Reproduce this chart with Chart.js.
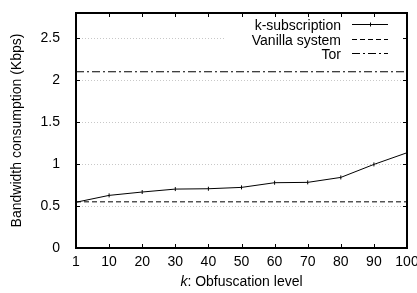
<!DOCTYPE html>
<html>
<head>
<meta charset="utf-8">
<script src="https://cdn.jsdelivr.net/npm/chart.js@4/dist/chart.umd.min.js"></script>
<style>
  html, body { margin: 0; padding: 0; background: #fff; overflow: hidden; }
  #wrap { width: 430px; height: 293px; }
</style>
</head>
<body>
<div id="wrap"><canvas id="myChart"></canvas></div>
<script>
// values
let k_levels = ["1", "10", "20", "30", "40", "50", "60", "70", "80", "90", "100"];
let k_subscription = [0.545, 0.627, 0.667, 0.702, 0.706, 0.722, 0.778, 0.782, 0.841, 0.996, 1.135];
let vanilla_level = 0.55;
let tor_level = 2.1;
let y_ticks = [0, 0.5, 1, 1.5, 2, 2.5];
let legend_names = ["k-subscription", "Vanilla system", "Tor"];

const FONT = "'Liberation Sans', Arial, sans-serif";
const FS = 14;

/** flat line from first to last category */
function flat(v) {
    return [{x: k_levels[0], y: v}, {x: k_levels[k_levels.length - 1], y: v}];
}

/** grid, ticks, frame, legend and x title drawn on the canvas */
const frame = {
    id: 'frame',
    beforeDatasetsDraw(chart) {
        const {ctx, chartArea: a, scales} = chart;
        ctx.save();
        ctx.strokeStyle = '#c8c8c8';
        ctx.lineWidth = 1;
        ctx.setLineDash([1, 2]);
        y_ticks.forEach(v => {
            if (v === 0) return;
            let y = Math.round(scales.y.getPixelForValue(v)) + 0.5;
            ctx.beginPath();
            ctx.moveTo(a.left, y);
            ctx.lineTo(a.right, y);
            ctx.stroke();
        });
        ctx.restore();
    },
    afterDatasetsDraw(chart) {
        const {ctx, chartArea: a, scales} = chart;
        ctx.save();
        // legend box
        ctx.fillStyle = '#fff';
        ctx.fillRect(226, 18, 176, 42);
        ctx.strokeStyle = '#000';
        ctx.lineWidth = 1;
        ctx.setLineDash([]);
        // inward ticks
        k_levels.forEach(l => {
            let x = Math.round(scales.x.getPixelForValue(l)) + 0.5;
            ctx.beginPath();
            ctx.moveTo(x, a.bottom); ctx.lineTo(x, a.bottom - 4);
            ctx.moveTo(x, a.top); ctx.lineTo(x, a.top + 4);
            ctx.stroke();
        });
        y_ticks.forEach(v => {
            let y = Math.round(scales.y.getPixelForValue(v)) + 0.5;
            ctx.beginPath();
            ctx.moveTo(a.left, y); ctx.lineTo(a.left + 4, y);
            ctx.moveTo(a.right, y); ctx.lineTo(a.right - 4, y);
            ctx.stroke();
        });
        // frame
        ctx.lineWidth = 2;
        ctx.strokeRect(a.left, a.top, a.right - a.left, a.bottom - a.top);

        // legend
        ctx.font = FS + 'px ' + FONT;
        ctx.fillStyle = '#000';
        ctx.textBaseline = 'alphabetic';
        chart.data.datasets.forEach((ds, i) => {
            let y = Math.round(24 + i * 14.5) + 0.5;
            ctx.textAlign = 'right';
            ctx.fillText(legend_names[i], 341, y + 5);
            ctx.lineWidth = 1;
            ctx.setLineDash(ds.borderDash || []);
            ctx.beginPath();
            ctx.moveTo(352, y);
            ctx.lineTo(388, y);
            ctx.stroke();
            ctx.setLineDash([]);
            if (i === 0) {
                ctx.beginPath();
                ctx.moveTo(370.5, y - 2); ctx.lineTo(370.5, y + 2);
                ctx.stroke();
            }
        });

        // x title with italic k
        ctx.textAlign = 'left';
        let rest = ': Obfuscation level';
        ctx.font = 'italic ' + FS + 'px ' + FONT;
        let wk = ctx.measureText('k').width;
        ctx.font = FS + 'px ' + FONT;
        let wr = ctx.measureText(rest).width;
        let x0 = (a.left + a.right) / 2 - (wk + wr) / 2;
        ctx.font = 'italic ' + FS + 'px ' + FONT;
        ctx.fillText('k', x0, 286);
        ctx.font = FS + 'px ' + FONT;
        ctx.fillText(rest, x0 + wk, 286);
        ctx.restore();
    }
};

let ctx = document.getElementById('myChart').getContext('2d');
let myChart = new Chart(ctx, {
    type: 'line',
    data: {
        labels: k_levels,
        datasets: [
            {
                label: legend_names[0],
                data: k_subscription,
                borderColor: '#000',
                borderWidth: 1,
                pointStyle: 'line',
                rotation: 90,
                pointRadius: 2,
                pointBorderColor: '#000',
                pointBorderWidth: 1,
                tension: 0
            },
            {
                label: legend_names[1],
                data: flat(vanilla_level),
                borderColor: '#000',
                borderWidth: 1,
                borderDash: [5, 3],
                pointRadius: 0
            },
            {
                label: legend_names[2],
                data: flat(tor_level),
                borderColor: '#000',
                borderWidth: 1,
                borderDash: [8, 3, 2, 3],
                pointRadius: 0
            }
        ]
    },
    options: {
        animation: false,
        responsive: true,
        maintainAspectRatio: false,
        layout: { padding: { top: 13, right: 23, left: 0, bottom: 0 } },
        plugins: { legend: { display: false }, tooltip: { enabled: false } },
        scales: {
            x: {
                type: 'category',
                offset: false,
                grid: { display: false, drawTicks: false },
                border: { display: false },
                ticks: {
                    color: '#000', font: { family: FONT, size: FS },
                    maxRotation: 0, autoSkip: false, padding: 6
                },
                afterFit(s) { s.height = 45; }
            },
            y: {
                min: 0, max: 2.8,
                grid: { display: false },
                border: { display: false },
                ticks: {
                    stepSize: 0.5, includeBounds: false,
                    color: '#000', font: { family: FONT, size: FS, lineHeight: 0.6 },
                    padding: 8,
                    callback: v => String(v)
                },
                title: {
                    display: true, text: 'Bandwidth consumption (Kbps)',
                    color: '#000', font: { family: FONT, size: FS },
                    padding: { top: 9, bottom: 0 }
                },
                afterFit(s) { s.width = 76; }
            }
        }
    },
    plugins: [frame]
});
</script>
</body>
</html>
